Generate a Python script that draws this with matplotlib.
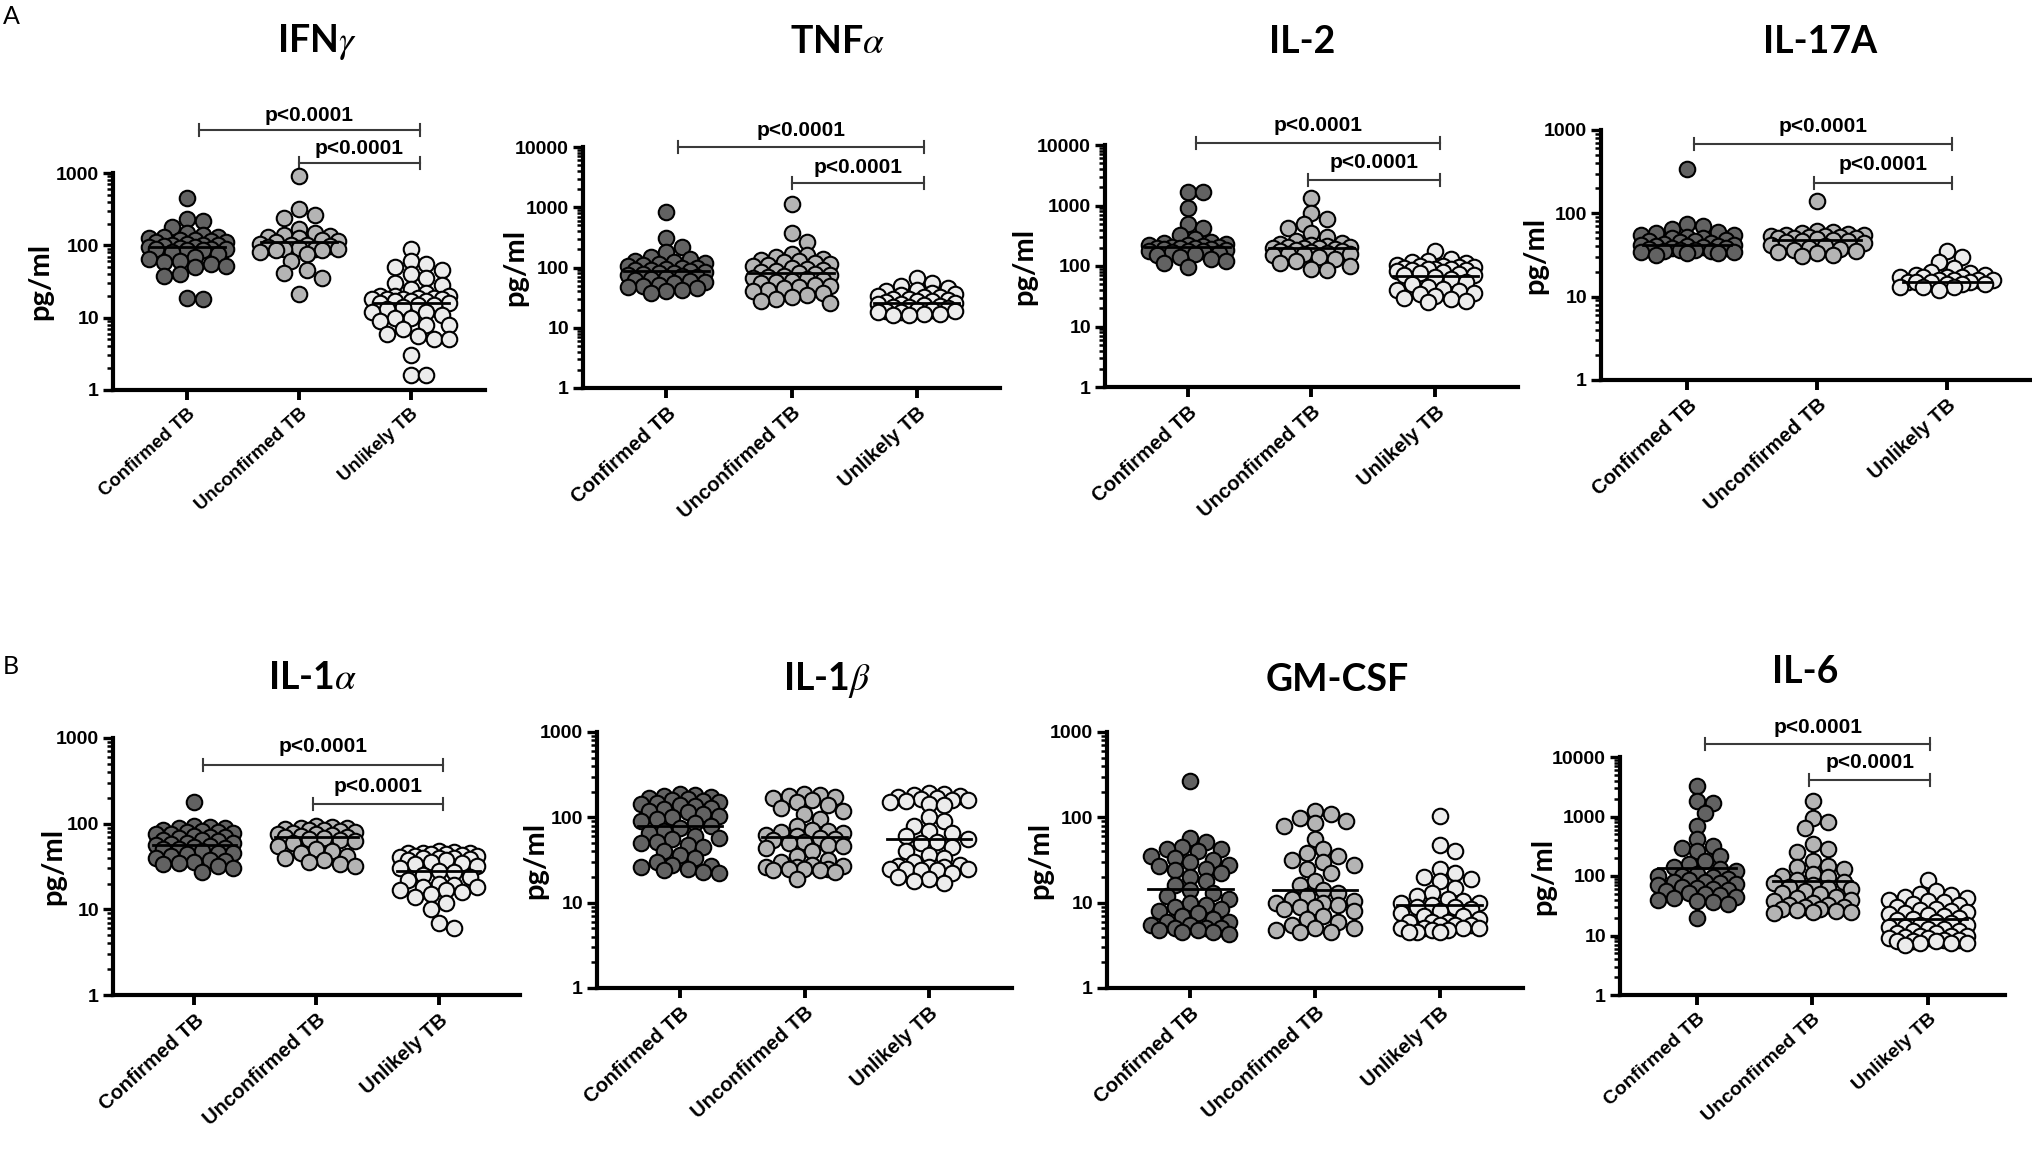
import numpy as np
import matplotlib
matplotlib.use("Agg")
import matplotlib.pyplot as plt
from matplotlib.font_manager import FontProperties
from matplotlib.ticker import FixedLocator, FixedFormatter, LogLocator, NullFormatter
from matplotlib.transforms import blended_transform_factory

plt.rcParams["mathtext.fontset"] = "stix"

W, H = 2033, 1166

groups = ["Confirmed TB", "Unconfirmed TB", "Unlikely TB"]
colors = ["#626262", "#b4b4b4", "#ececec"]

# values (pg/ml)
ifng_conf = [450, 220, 230, 180, 150, 140, 130, 130, 125, 120, 120, 115, 110, 110, 105, 100,
             100, 100, 98, 95, 95, 92, 90, 90, 88, 85, 85, 80, 75, 70, 65, 60, 58, 55, 52, 50,
             40, 38, 19, 18]
ifng_unconf = [900, 320, 260, 240, 170, 150, 140, 135, 130, 125, 120, 115, 110, 105, 100, 100,
               98, 95, 92, 90, 88, 88, 85, 85, 80, 75, 60, 45, 42, 35, 21]
ifng_unlik = [90, 60, 55, 50, 45, 40, 35, 30, 28, 25, 22, 20, 20, 20, 19, 19, 18, 18, 18, 18,
              17, 17, 17, 16, 16, 15, 15, 14, 13, 12, 12, 11, 10, 10, 9, 8, 8, 7, 6, 5.5, 5, 5,
              3, 1.6, 1.6]
ifng_lines = [95, 110, 16]

tnfa_conf = [820, 310, 220, 180, 150, 140, 130, 125, 120, 115, 110, 105, 100, 98, 95, 92, 90,
             88, 85, 82, 80, 78, 75, 72, 70, 68, 65, 62, 60, 58, 55, 52, 50, 48, 45, 42, 40, 38]
tnfa_unconf = [1150, 380, 270, 170, 160, 150, 140, 135, 130, 125, 120, 115, 110, 105, 100, 95,
               90, 88, 85, 80, 78, 75, 72, 70, 68, 65, 62, 60, 58, 55, 52, 50, 48, 45, 42, 40,
               38, 35, 33, 30, 28, 26]
tnfa_unlik = [68, 55, 50, 45, 42, 40, 38, 36, 35, 34, 33, 32, 30, 30, 29, 28, 28, 27, 26, 25,
              25, 24, 23, 22, 22, 21, 20, 20, 19, 19, 18, 18, 17, 17, 16, 16]
tnfa_lines = [89, 80, 26]

il2_conf = [1700, 1650, 900, 500, 420, 320, 280, 250, 240, 230, 225, 220, 215, 210, 205, 200,
            200, 195, 190, 190, 185, 180, 180, 175, 170, 165, 160, 150, 140, 130, 120, 110, 95]
il2_unconf = [1350, 750, 600, 500, 430, 350, 300, 260, 240, 230, 220, 215, 210, 205, 200, 200,
              195, 190, 185, 180, 175, 170, 165, 160, 160, 155, 150, 140, 130, 120, 110, 100,
              90, 85]
il2_unlik = [180, 130, 120, 115, 110, 105, 100, 100, 98, 95, 92, 90, 90, 88, 86, 85, 82, 80,
             78, 75, 72, 70, 65, 60, 55, 50, 45, 42, 40, 38, 36, 34, 32, 30, 28, 26, 25]
il2_lines = [210, 200, 68]

il17_conf = [340, 75, 70, 65, 60, 58, 55, 55, 52, 50, 50, 48, 47, 46, 45, 44, 43, 42, 42, 41,
             40, 40, 39, 38, 38, 37, 36, 36, 35, 35, 34, 34, 33, 33, 32]
il17_unconf = [140, 62, 60, 58, 56, 55, 55, 54, 53, 52, 52, 51, 50, 50, 49, 48, 47, 46, 45, 44,
               42, 40, 38, 37, 36, 35, 34, 33, 32, 31]
il17_unlik = [35, 30, 26, 22, 20, 19, 18, 18, 17, 17, 17, 17, 16, 16, 16, 16, 15, 15, 15, 15,
              14, 14, 14, 13, 13, 13, 12]
il17_lines = [42, 48, 15]

il1a_conf = [180, 95, 92, 90, 88, 85, 82, 80, 80, 78, 75, 75, 72, 70, 70, 68, 65, 65, 62, 60,
             60, 58, 56, 55, 54, 52, 50, 50, 48, 46, 45, 44, 42, 40, 38, 37, 36, 35, 34, 32,
             30, 27]
il1a_unconf = [95, 92, 90, 88, 86, 85, 84, 82, 80, 78, 76, 75, 74, 72, 70, 70, 68, 66, 65, 62,
               60, 55, 50, 48, 45, 42, 40, 38, 36, 34, 32]
il1a_unlik = [48, 47, 46, 45, 45, 44, 44, 43, 42, 42, 41, 40, 40, 40, 39, 38, 38, 36, 35, 34,
              32, 30, 28, 27, 25, 24, 22, 20, 19, 18, 18, 17, 17, 16, 15, 14, 12, 10, 7, 6]
il1a_lines = [57, 70, 28]

il1b_conf = [190, 185, 180, 175, 170, 165, 160, 155, 150, 148, 145, 140, 135, 130, 125, 120,
             115, 110, 105, 100, 95, 90, 85, 80, 75, 70, 65, 60, 58, 55, 52, 50, 48, 45, 40,
             36, 33, 30, 28, 27, 26, 25, 24, 23, 22]
il1b_unconf = [190, 185, 180, 175, 170, 160, 150, 140, 130, 120, 110, 95, 80, 72, 70, 68, 65,
               62, 60, 58, 56, 54, 52, 50, 48, 46, 44, 40, 35, 32, 30, 28, 27, 26, 26, 25, 25,
               25, 24, 24, 23, 19]
il1b_unlik = [195, 190, 185, 180, 175, 170, 165, 160, 160, 155, 150, 145, 140, 100, 90, 80, 70,
              65, 60, 55, 52, 50, 45, 40, 36, 33, 30, 28, 27, 26, 26, 25, 25, 25, 24, 24, 22,
              20, 19, 18, 17]
il1b_lines = [79, 59, 56]

gmcsf_conf = [270, 58, 52, 45, 42, 42, 40, 35, 33, 32, 30, 28, 27, 25, 24, 22, 20, 18, 16, 14,
              13, 12, 11, 10, 9.5, 9, 8.5, 8, 7.5, 7, 6.5, 6, 6, 5.5, 5.5, 5, 5, 5, 4.8, 4.8,
              4.5, 4.5, 4.3]
gmcsf_unconf = [120, 110, 98, 90, 85, 80, 55, 42, 38, 35, 32, 30, 28, 25, 22, 18, 16, 14, 13,
                12, 11, 10.5, 10, 10, 9.5, 9, 9, 8.5, 8, 7, 6.5, 6, 5.5, 5, 5, 4.8, 4.5, 4.5]
gmcsf_unlik = [105, 48, 40, 25, 22, 20, 19, 18, 15, 13, 12, 11, 10.5, 10, 10, 9.5, 9, 9, 8.5,
               8, 7.5, 7, 7, 6.5, 6, 6, 6, 5.5, 5.5, 5.5, 5, 5, 5, 5, 4.8, 4.8, 4.5, 4.5, 4.5]
gmcsf_lines = [14.4, 14.1, 9.3]

il6_conf = [3200, 1800, 1700, 1150, 700, 420, 320, 300, 260, 220, 180, 160, 140, 130, 120,
            110, 100, 100, 95, 90, 85, 80, 78, 75, 72, 70, 65, 62, 60, 58, 55, 52, 50, 48, 45,
            42, 40, 38, 36, 34, 20]
il6_unconf = [1800, 950, 800, 650, 350, 280, 250, 180, 150, 140, 130, 110, 100, 95, 85, 80, 75,
              70, 65, 62, 60, 55, 52, 50, 45, 42, 40, 38, 35, 33, 32, 30, 30, 28, 28, 27, 26,
              25, 25, 24]
il6_unlik = [85, 55, 50, 48, 45, 42, 40, 38, 36, 34, 32, 30, 28, 27, 26, 25, 24, 23, 22, 21,
             20, 19, 18, 17, 16, 15, 15, 14, 14, 13, 13, 12, 12, 11, 11, 10, 10, 10, 9.5, 9, 9,
             8.5, 8.5, 8, 8, 8, 7.5, 7.5, 7.5, 7]
il6_lines = [137, 83, 19]

p_text = "p<0.0001"

# layout: axes box in pixels (x0, y_top, x1, y_bottom), title centre, ylabel offset, brackets
panels = [
    dict(title=r"IFN$\gamma$", data=(ifng_conf, ifng_unconf, ifng_unlik), lines=ifng_lines,
         top=1000, box=(113, 173, 485, 390), tpos=(317, 42), ylab=-73, xfs=13.3,
         br=[(0.1, 2.08, 1.198, 1.267), (1.0, 2.08, 1.046, 1.115)]),
    dict(title=r"TNF$\alpha$", data=(tnfa_conf, tnfa_unconf, tnfa_unlik), lines=tnfa_lines,
         top=10000, box=(583, 147, 1000, 388), tpos=(838, 42), ylab=-68, xfs=14.5,
         br=[(0.09, 2.06, 1.0, 1.07), (1.0, 2.06, 0.85, 0.917)]),
    dict(title="IL-2", data=(il2_conf, il2_unconf, il2_unlik), lines=il2_lines, top=10000,
         box=(1105, 145, 1518, 387), tpos=(1302, 42), ylab=-81, xfs=14.5,
         br=[(0.07, 2.04, 1.008, 1.08), (0.97, 2.04, 0.855, 0.926)]),
    dict(title="IL-17A", data=(il17_conf, il17_unconf, il17_unlik), lines=il17_lines, top=1000,
         box=(1601, 130, 2033, 380), tpos=(1820, 42), ylab=-66, xfs=14.5,
         br=[(0.05, 2.04, 0.944, 1.012), (0.98, 2.04, 0.788, 0.86)]),
    dict(title=r"IL-1$\alpha$", data=(il1a_conf, il1a_unconf, il1a_unlik), lines=il1a_lines,
         top=1000, box=(113, 738, 520, 995), tpos=(312, 678), ylab=-60, xfs=14.5,
         br=[(0.07, 2.04, 0.895, 0.965), (0.97, 2.04, 0.743, 0.81)]),
    dict(title=r"IL-1$\beta$", data=(il1b_conf, il1b_unconf, il1b_unlik), lines=il1b_lines,
         top=1000, box=(597, 732, 1012, 988), tpos=(827, 680), ylab=-62, xfs=14.5, br=[]),
    dict(title="GM-CSF", data=(gmcsf_conf, gmcsf_unconf, gmcsf_unlik), lines=gmcsf_lines,
         top=1000, box=(1107, 732, 1523, 988), tpos=(1337, 680), ylab=-67, xfs=14.5, br=[]),
    dict(title="IL-6", data=(il6_conf, il6_unconf, il6_unlik), lines=il6_lines, top=10000,
         box=(1620, 757, 2005, 995), tpos=(1805, 672), ylab=-77, xfs=14,
         br=[(0.07, 2.02, 1.055, 1.126), (0.97, 2.02, 0.903, 0.975)]),
]

bold_arial = dict(family="Liberation Sans", weight="bold")
title_fam = ["Lato", "DejaVu Sans"]


def swarm(ax, xc, vals, diam, half_px):
    vals = np.asarray(vals, float)
    disp = ax.transData.transform(np.column_stack([np.full(len(vals), xc), vals]))
    x0 = disp[0, 0]
    ys = disp[:, 1]
    step = diam * 0.5
    cands = [0.0]
    k = 1
    while k * step <= half_px:
        cands += [k * step, -k * step]
        k += 1
    offs = np.zeros(len(vals))
    px, py = [], []
    for i in np.argsort(-ys):
        y = ys[i]
        best = 0.0
        if px:
            P, Q = np.array(px), np.array(py)
            bestd = -1
            found = False
            for c in cands:
                d = np.min(np.hypot(P - c, Q - y))
                if d >= diam * 0.78:
                    best = c
                    found = True
                    break
                if d > bestd:
                    bestd, bestc = d, c
            if not found:
                best = bestc
        offs[i] = best
        px.append(best)
        py.append(y)
    back = ax.transData.inverted().transform(np.column_stack([x0 + offs, ys]))
    return back[:, 0]


fig = plt.figure(figsize=(W / 100, H / 100), dpi=100)

for p in panels:
    x0, yt, x1, yb = p["box"]
    ax = fig.add_axes([x0 / W, 1 - yb / H, (x1 - x0) / W, (yb - yt) / H])
    ax.set_yscale("log")
    ax.set_ylim(1, p["top"])
    ax.set_xlim(-2 / 3, 2 + 2 / 3)
    for s in ("top", "right"):
        ax.spines[s].set_visible(False)
    for s in ("left", "bottom"):
        ax.spines[s].set_linewidth(3.0)

    decades = [10 ** k for k in range(int(round(np.log10(p["top"]))) + 1)]
    ax.yaxis.set_major_locator(FixedLocator(decades))
    ax.yaxis.set_major_formatter(FixedFormatter([str(d) for d in decades]))
    ax.yaxis.set_minor_locator(LogLocator(base=10, subs=np.arange(2, 10), numticks=20))
    ax.yaxis.set_minor_formatter(NullFormatter())
    ax.tick_params(axis="y", which="major", length=7, width=2.4, pad=3)
    ax.tick_params(axis="y", which="minor", length=4, width=1.8)
    ax.tick_params(axis="x", length=7, width=2.8, pad=4)
    for lab in ax.get_yticklabels():
        lab.set_fontproperties(FontProperties(size=14, **bold_arial))

    ax.set_xticks([0, 1, 2])
    ax.set_xticklabels(groups, rotation=42, ha="right", rotation_mode="anchor",
                       fontsize=p["xfs"], **bold_arial)

    ax.set_ylabel("pg/ml", fontsize=21, fontweight="bold", family=title_fam, va="center")
    ax.yaxis.set_label_coords(p["ylab"] / (x1 - x0), 0.5)

    unit_px = (x1 - x0) / (2 + 4 / 3)
    for gi, (vals, col) in enumerate(zip(p["data"], colors)):
        xs = swarm(ax, gi, vals, 15.5, 0.37 * unit_px)
        ax.scatter(xs, vals, s=125, c=col, edgecolors="black", linewidths=1.5, zorder=3,
                   clip_on=False)
        ax.plot([gi - 0.34, gi + 0.34], [p["lines"][gi]] * 2, color="black", lw=2, zorder=4)

    tr = blended_transform_factory(ax.transData, ax.transAxes)
    tick_h = 6 / (yb - yt)
    for xa, xb, yl, ytx in p["br"]:
        ax.plot([xa, xb], [yl, yl], color="#3a3a3a", lw=1.5, transform=tr, clip_on=False)
        for xe in (xa, xb):
            ax.plot([xe, xe], [yl - tick_h, yl + tick_h], color="#3a3a3a", lw=1.5,
                    transform=tr, clip_on=False)
        ax.text((xa + xb) / 2, ytx, p_text, transform=tr, ha="center", va="center",
                fontsize=15, **bold_arial)

    fig.text(p["tpos"][0] / W, 1 - p["tpos"][1] / H, p["title"], ha="center", va="center",
             fontsize=27, fontweight="bold", family=title_fam)

fig.text(3 / W, 1 - 16 / H, "A", fontsize=18, family=title_fam, va="center")
fig.text(3 / W, 1 - 667 / H, "B", fontsize=18, family=title_fam, va="center")

fig.savefig("out.png", dpi=100)
